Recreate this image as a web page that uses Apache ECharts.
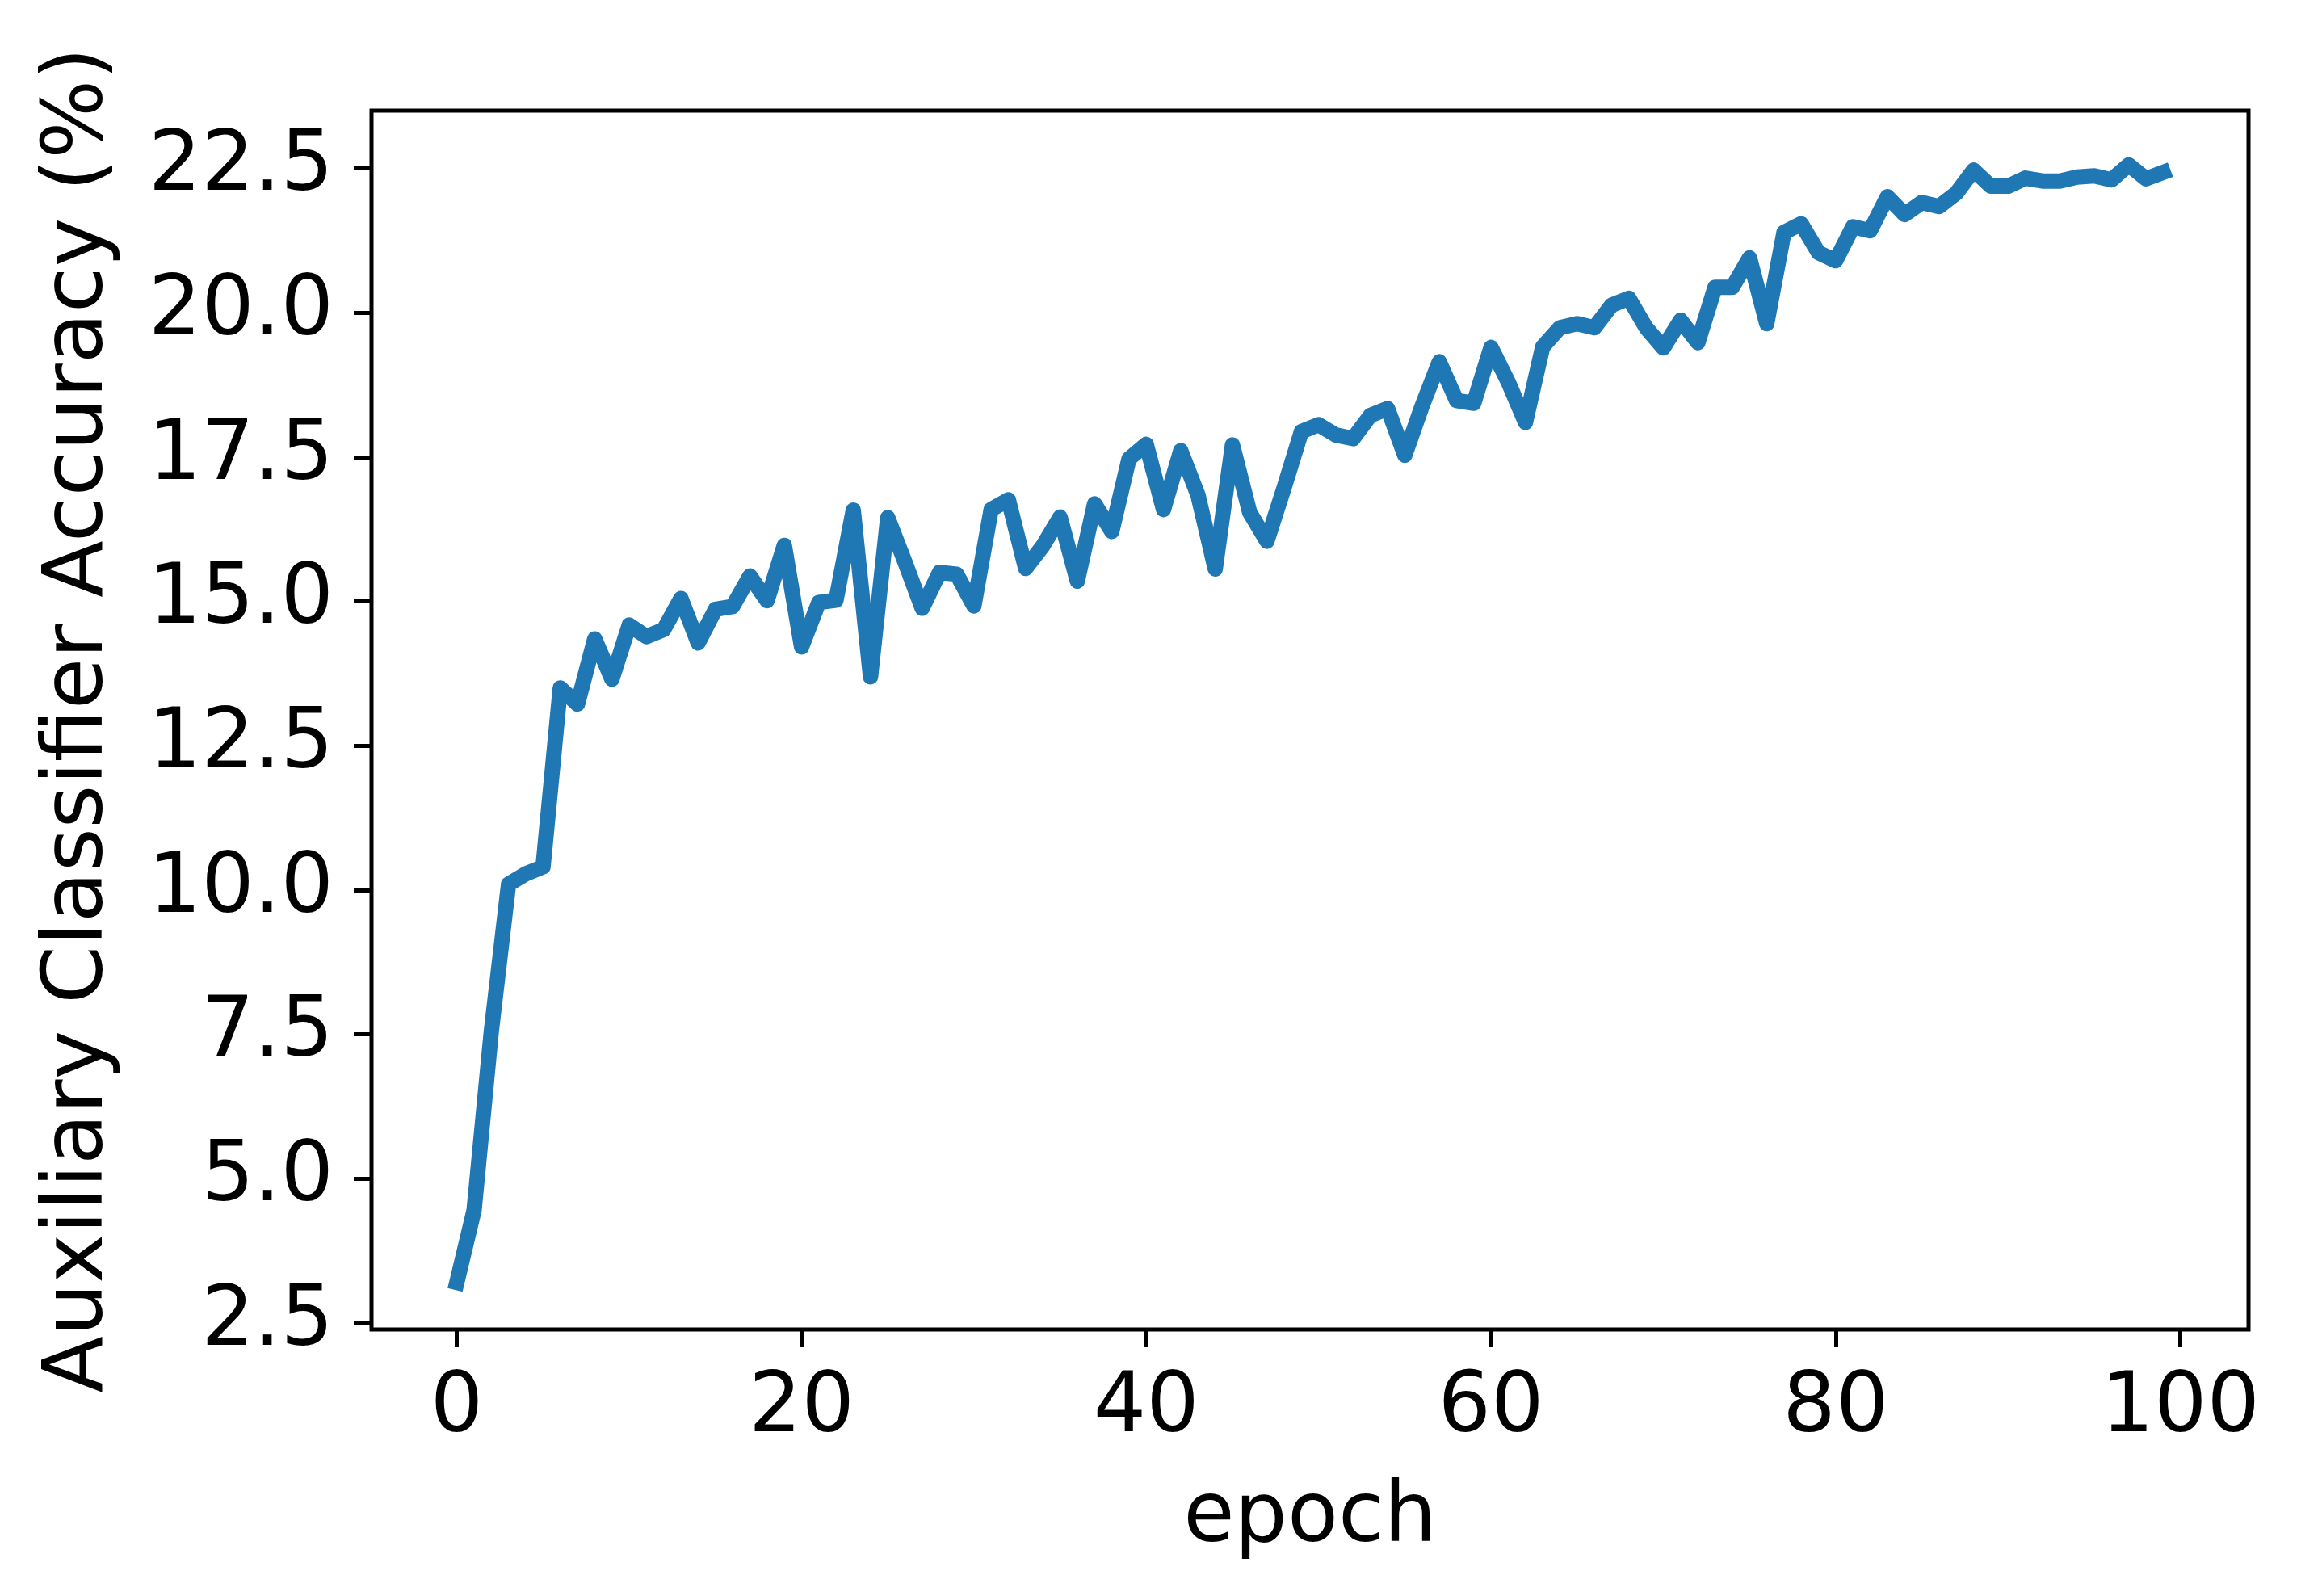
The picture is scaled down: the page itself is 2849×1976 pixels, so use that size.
<!DOCTYPE html>
<html>
<head>
<meta charset="utf-8">
<script src="https://cdn.jsdelivr.net/npm/echarts@6/dist/echarts.min.js"></script>
<style>
html,body{margin:0;padding:0;background:#fff;}
#chart{width:2849px;height:1976px;}
</style>
</head>
<body>
<div id="chart"></div>
<script>
const epochs = [0,1,2,3,4,5,6,7,8,9,10,11,12,13,14,15,16,17,18,19,20,21,22,23,24,25,26,27,28,29,30,31,32,33,34,35,36,37,38,39,40,41,42,43,44,45,46,47,48,49,50,51,52,53,54,55,56,57,58,59,60,61,62,63,64,65,66,67,68,69,70,71,72,73,74,75,76,77,78,79,80,81,82,83,84,85,86,87,88,89,90,91,92,93,94,95,96,97,98,99];
const accuracy = [3.20,4.45,7.55,10.10,10.28,10.40,13.50,13.22,14.35,13.65,
  14.59,14.39,14.51,15.05,14.28,14.86,14.91,15.44,15.01,15.97,
  14.21,14.98,15.02,16.58,13.69,16.45,15.68,14.88,15.50,15.47,
  14.92,16.59,16.76,15.57,15.96,16.46,15.35,16.69,16.21,17.47,
  17.72,16.59,17.61,16.84,15.56,17.71,16.54,16.04,16.97,17.94,
  18.06,17.88,17.82,18.22,18.34,17.53,18.38,19.15,18.48,18.43,
  19.40,18.80,18.10,19.41,19.74,19.81,19.74,20.13,20.25,19.74,
  19.39,19.87,19.48,20.44,20.44,20.95,19.81,21.39,21.54,21.04,
  20.90,21.49,21.42,22.01,21.70,21.91,21.84,22.07,22.47,22.19,
  22.19,22.33,22.28,22.28,22.35,22.37,22.30,22.56,22.32,22.43];
const xTicks = [0,20,40,60,80,100];
const yTicks = [2.5,5.0,7.5,10.0,12.5,15.0,17.5,20.0,22.5];
const xLabel = 'epoch';
const yLabel = 'Auxiliary Classifier Accuracy (%)';

const seriesData = epochs.map((e, i) => [e, accuracy[i]]);
const font = 'DejaVu Sans';
const fs = 103;

const chart = echarts.init(document.getElementById('chart'), null, {renderer: 'canvas'});
chart.setOption({
  animation: false,
  backgroundColor: '#ffffff',
  grid: {
    left: 460, top: 137, right: 65, bottom: 330,
    containLabel: false,
    outerBoundsMode: 'none',
    show: true,
    borderColor: '#000',
    borderWidth: 5,
    backgroundColor: 'transparent'
  },
  xAxis: {
    type: 'value',
    min: -4.95,
    max: 103.95,
    name: xLabel,
    nameLocation: 'middle',
    nameGap: 184,
    nameTextStyle: {fontFamily: font, fontSize: fs, color: '#000'},
    axisLine: {show: false, onZero: false},
    axisTick: {show: true, inside: false, length: 22, lineStyle: {color: '#000', width: 5}, customValues: xTicks},
    axisLabel: {show: true, margin: 48, fontFamily: font, fontSize: fs, color: '#000', customValues: xTicks,
      formatter: v => String(v)},
    splitLine: {show: false}
  },
  yAxis: {
    type: 'value',
    min: 2.386,
    max: 23.5,
    name: yLabel,
    nameLocation: 'middle',
    nameGap: 309,
    nameTextStyle: {fontFamily: font, fontSize: fs, color: '#000'},
    axisLine: {show: false, onZero: false},
    axisTick: {show: true, inside: false, length: 22, lineStyle: {color: '#000', width: 5}, customValues: yTicks},
    axisLabel: {show: true, margin: 47, fontFamily: font, fontSize: fs, color: '#000', customValues: yTicks,
      formatter: v => Number(v).toFixed(1)},
    splitLine: {show: false}
  },
  series: [{
    type: 'line',
    data: seriesData,
    showSymbol: false,
    symbol: 'none',
    lineStyle: {color: '#1f77b4', width: 19, cap: 'square', join: 'round'},
    z: 1
  }]
});
</script>
</body>
</html>
